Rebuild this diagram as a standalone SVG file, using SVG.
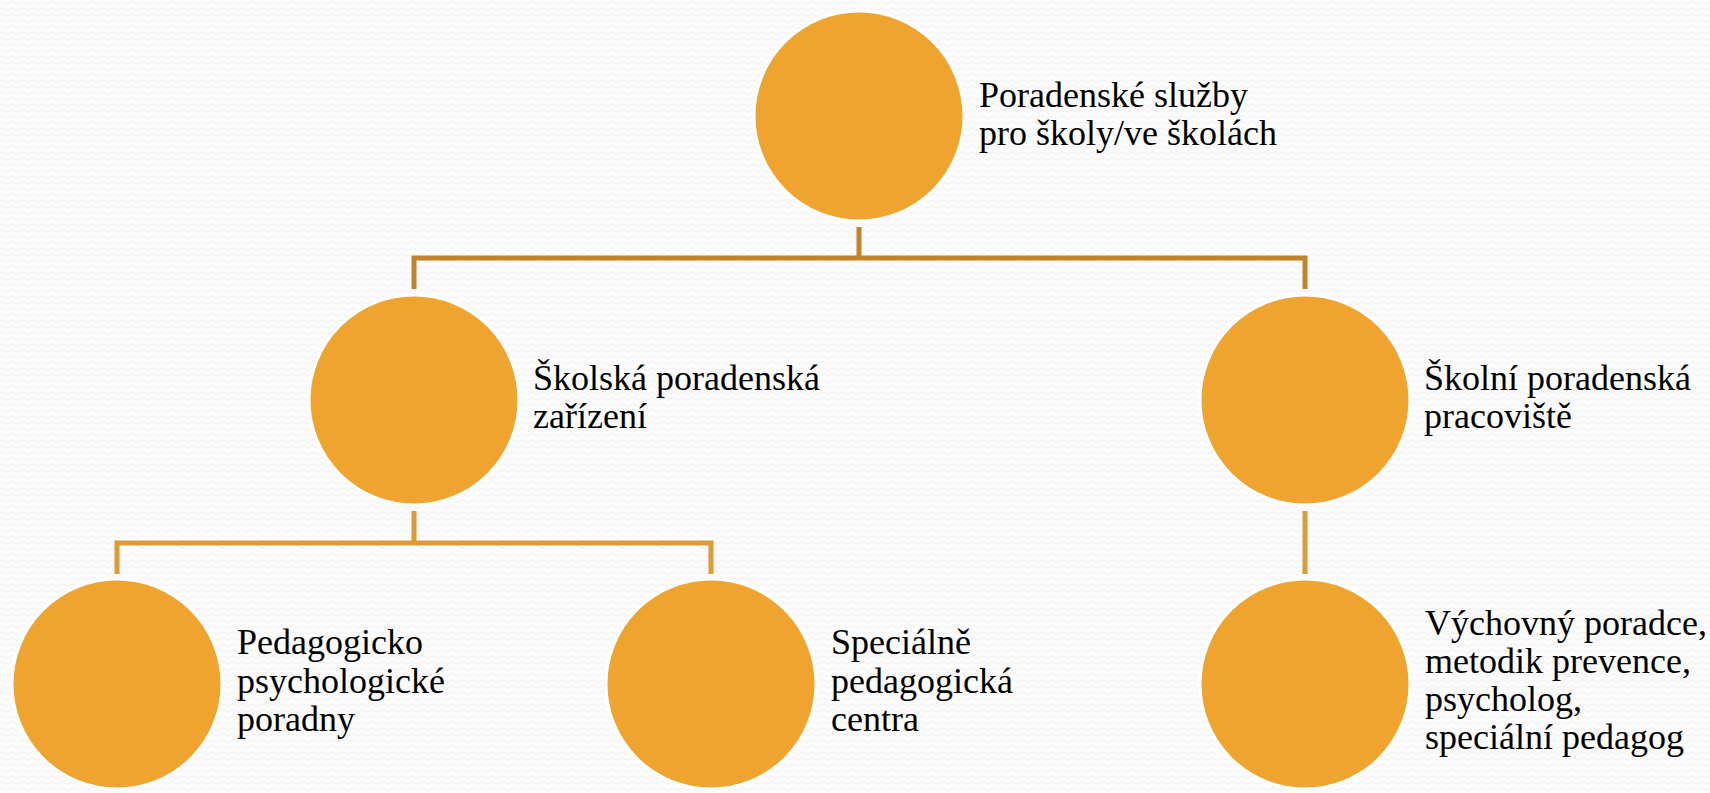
<svg xmlns="http://www.w3.org/2000/svg" width="1710" height="793" viewBox="0 0 1710 793">
  <defs>
    <pattern id="waves" x="0" y="0" width="10" height="6" patternUnits="userSpaceOnUse">
      <rect width="10" height="6" fill="#fcfcfc"/>
      <path d="M0 3 Q2.5 0.5 5 3 T10 3" fill="none" stroke="#f0f0f0" stroke-width="1"/>
    </pattern>
    <style>
      .node { fill: #efa430; stroke: #ffffff; stroke-width: 3; }
      .lbl { font-family: "Liberation Serif", "DejaVu Serif", serif; font-size: 36px; fill: #000000; }
      .c1 { fill: none; stroke: #c4822a; stroke-width: 5; stroke-linejoin: miter; }
      .c2 { fill: none; stroke: #dd9a35; stroke-width: 5; stroke-linejoin: miter; }
    </style>
  </defs>
  <rect width="1710" height="793" fill="url(#waves)"/>
  <g id="connectors">
    <path class="c1" d="M859 227 V258"/>
    <path class="c1" d="M414 289 V258 H1305 V289"/>
    <path class="c2" d="M414 511 V543"/>
    <path class="c2" d="M117 574 V543 H711 V574"/>
    <path class="c2" d="M1305 511 V574"/>
  </g>
  <g id="node-root">
    <circle class="node" cx="859" cy="116" r="105"/>
    <text class="lbl" x="979" y="107">Poradenské služby</text>
    <text class="lbl" x="979" y="145">pro školy/ve školách</text>
  </g>
  <g id="node-skolska">
    <circle class="node" cx="414" cy="400" r="105"/>
    <text class="lbl" x="533" y="390">Školská poradenská</text>
    <text class="lbl" x="533" y="428">zařízení</text>
  </g>
  <g id="node-skolni">
    <circle class="node" cx="1305" cy="400" r="105"/>
    <text class="lbl" x="1424" y="390">Školní poradenská</text>
    <text class="lbl" x="1424" y="428">pracoviště</text>
  </g>
  <g id="node-ppp">
    <circle class="node" cx="117" cy="684" r="105"/>
    <text class="lbl" x="237" y="654">Pedagogicko</text>
    <text class="lbl" x="237" y="693">psychologické</text>
    <text class="lbl" x="237" y="731">poradny</text>
  </g>
  <g id="node-spc">
    <circle class="node" cx="711" cy="684" r="105"/>
    <text class="lbl" x="831" y="654">Speciálně</text>
    <text class="lbl" x="831" y="693">pedagogická</text>
    <text class="lbl" x="831" y="731">centra</text>
  </g>
  <g id="node-staff">
    <circle class="node" cx="1305" cy="684" r="105"/>
    <text class="lbl" x="1425" y="635">Výchovný poradce,</text>
    <text class="lbl" x="1425" y="673">metodik prevence,</text>
    <text class="lbl" x="1425" y="711">psycholog,</text>
    <text class="lbl" x="1425" y="749">speciální pedagog</text>
  </g>
</svg>
